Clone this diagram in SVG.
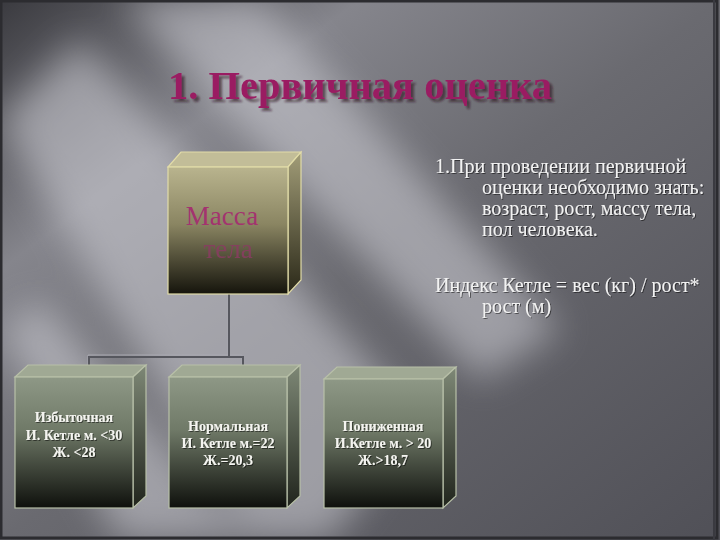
<svg xmlns="http://www.w3.org/2000/svg" width="720" height="540" viewBox="0 0 720 540">
<defs>
<linearGradient id="bg" x1="0" y1="0" x2="1" y2="1">
<stop offset="0" stop-color="#3a3a3f"/>
<stop offset="0.25" stop-color="#85858c"/>
<stop offset="0.5" stop-color="#6a6a70"/>
<stop offset="1" stop-color="#505057"/>
</linearGradient>
<filter id="blur" x="-20%" y="-20%" width="140%" height="140%"><feGaussianBlur stdDeviation="18"/></filter>
<filter id="tsh" x="-5%" y="-20%" width="110%" height="150%"><feDropShadow dx="3" dy="3" stdDeviation="1.2" flood-color="#2a1020" flood-opacity="0.6"/></filter>
<filter id="bsh" x="-5%" y="-20%" width="110%" height="150%"><feDropShadow dx="1" dy="1" stdDeviation="0.6" flood-color="#000" flood-opacity="0.5"/></filter>
<linearGradient id="gTop" x1="0" y1="0" x2="0" y2="1">
<stop offset="0" stop-color="#b9b48e"/>
<stop offset="0.45" stop-color="#8a8562"/>
<stop offset="1" stop-color="#15140c"/>
</linearGradient>
<linearGradient id="gBot" x1="0" y1="0" x2="0" y2="1">
<stop offset="0" stop-color="#8e9886"/>
<stop offset="0.4" stop-color="#707a68"/>
<stop offset="1" stop-color="#0e100c"/>
</linearGradient>
<linearGradient id="sTop" x1="0" y1="0" x2="0" y2="1">
<stop offset="0" stop-color="#a29d78"/>
<stop offset="1" stop-color="#2a2818"/>
</linearGradient>
<linearGradient id="sBot" x1="0" y1="0" x2="0" y2="1">
<stop offset="0" stop-color="#7e8876"/>
<stop offset="1" stop-color="#20241c"/>
</linearGradient>
</defs>
<style>
.face{stroke-width:1.2}
.t .face{stroke:#e2dca8}
.b .face{stroke:#b8c0a8}
.lbl{font-weight:bold;font-size:14px;fill:#f4f4f0;text-anchor:middle}
.body{font-size:20px;fill:#f2f2f2}
.conn{stroke:#56575e;stroke-width:2;fill:none}
.connl{stroke:#a8a8b0;stroke-width:1;fill:none}
</style>
<rect width="720" height="540" fill="url(#bg)"/>
<g filter="url(#blur)" fill="#cfcfd6" opacity="0.55">
<polygon points="0,120 80,40 420,420 330,540 250,540"/>
<polygon points="120,0 260,0 560,330 480,380"/>
<polygon points="0,330 40,300 250,540 120,540"/>
</g>
<rect x="1" y="1" width="716" height="537" fill="none" stroke="#2c2c30" stroke-width="3"/>
<line x1="714" y1="0" x2="714" y2="540" stroke="#3a3a40" stroke-width="2"/>

<g id="title">
<text x="168" y="99" font-family="Liberation Serif, serif" font-weight="bold" font-size="41" textLength="384" lengthAdjust="spacingAndGlyphs" fill="#9a1d62" filter="url(#tsh)">1. Первичная оценка</text>
</g>

<g id="connectors">
<polyline class="connl" points="228,294 228,355"/>
<polyline class="connl" points="88,367 88,355 242,355 242,367"/>
<polyline class="conn" points="229,294 229,357"/>
<polyline class="conn" points="89,367 89,357 243,357 243,367"/>
</g>

<g id="node-mass" class="t">
<polygon class="face" points="168,167 181,152 301,152 288,167" fill="#c2bd98"/>
<polygon class="face" points="288,167 301,152 301,280 288,294" fill="url(#sTop)"/>
<rect class="face" x="168" y="167" width="120" height="127" fill="url(#gTop)"/>
<text x="222" y="225" font-family="Liberation Serif, serif" font-size="27" fill="#a3336f" text-anchor="middle">Масса</text>
<text x="228" y="258" font-family="Liberation Serif, serif" font-size="27" fill="#8a3c62" opacity="0.85" text-anchor="middle">тела</text>
</g>

<g id="node-excess" class="b">
<polygon class="face" points="15,377 28,365 146,365 133,377" fill="#a0a994"/>
<polygon class="face" points="133,377 146,365 146,496 133,508" fill="url(#sBot)"/>
<rect class="face" x="15" y="377" width="118" height="131" fill="url(#gBot)"/>
<g filter="url(#bsh)">
<text class="lbl" x="74" y="422" font-family="Liberation Serif, serif">Избыточная</text>
<text class="lbl" x="74" y="440" font-family="Liberation Serif, serif">И. Кетле м. &lt;30</text>
<text class="lbl" x="74" y="457" font-family="Liberation Serif, serif">Ж. &lt;28</text>
</g>
</g>

<g id="node-normal" class="b">
<polygon class="face" points="169,377 182,365 300,365 287,377" fill="#a0a994"/>
<polygon class="face" points="287,377 300,365 300,496 287,508" fill="url(#sBot)"/>
<rect class="face" x="169" y="377" width="118" height="131" fill="url(#gBot)"/>
<g filter="url(#bsh)">
<text class="lbl" x="228" y="431" font-family="Liberation Serif, serif">Нормальная</text>
<text class="lbl" x="228" y="448" font-family="Liberation Serif, serif">И. Кетле м.=22</text>
<text class="lbl" x="228" y="465" font-family="Liberation Serif, serif">Ж.=20,3</text>
</g>
</g>

<g id="node-low" class="b">
<polygon class="face" points="324,379 337,367 456,367 443,379" fill="#a0a994"/>
<polygon class="face" points="443,379 456,367 456,496 443,508" fill="url(#sBot)"/>
<rect class="face" x="324" y="379" width="119" height="129" fill="url(#gBot)"/>
<g filter="url(#bsh)">
<text class="lbl" x="383" y="431" font-family="Liberation Serif, serif">Пониженная</text>
<text class="lbl" x="383" y="448" font-family="Liberation Serif, serif">И.Кетле м. &gt; 20</text>
<text class="lbl" x="383" y="465" font-family="Liberation Serif, serif">Ж.&gt;18,7</text>
</g>
</g>

<g id="notes" filter="url(#bsh)">
<text class="body" x="435" y="173" font-family="Liberation Serif, serif">1.При проведении первичной</text>
<text class="body" x="482" y="194" font-family="Liberation Serif, serif">оценки необходимо знать:</text>
<text class="body" x="482" y="215" font-family="Liberation Serif, serif">возраст, рост, массу тела,</text>
<text class="body" x="482" y="236" font-family="Liberation Serif, serif">пол человека.</text>
<text class="body" x="435" y="292" font-family="Liberation Serif, serif">Индекс Кетле = вес (кг) / рост*</text>
<text class="body" x="482" y="313" font-family="Liberation Serif, serif">рост (м)</text>
</g>
</svg>
